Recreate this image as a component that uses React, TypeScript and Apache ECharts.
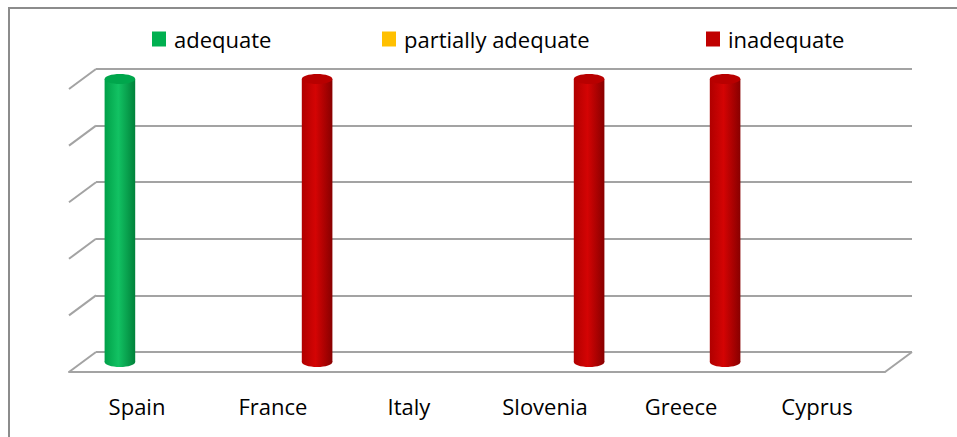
import React, { useEffect, useRef } from "react";
import * as echarts from "echarts";

const categories = ["Spain", "France", "Italy", "Slovenia", "Greece", "Cyprus"];
const seriesNames = ["adequate", "partially adequate", "inadequate"];
const adequate = [1, 0, 0, 0, 0, 0];
const partiallyAdequate = [0, 0, 0, 0, 0, 0];
const inadequate = [0, 1, 0, 1, 1, 0];
const valueTicks = [0, 0.2, 0.4, 0.6, 0.8, 1];

const W = 957;
const H = 437;
const BACK = { left: 96, right: 912, top: 69, bottom: 352 };
const DX = 27;
const DY = 20;
const GRID_COLOR = "#a3a3a3";
const FONT = "'Open Sans', sans-serif";
const BAR_FRAC = 0.225;
const LEGEND_LEFTS = [152, 382, 706];

const palettes = [
  { base: "#00b050", edgeL: "#00a048", mid: "#12c263", edgeR: "#00823a", cap: "#00a64c" },
  { base: "#ffc000", edgeL: "#e8ae00", mid: "#ffcc33", edgeR: "#cc9a00", cap: "#f2b600" },
  { base: "#c00000", edgeL: "#b00000", mid: "#d40404", edgeR: "#880000", cap: "#b80000" },
];

function gridFor(shift: number) {
  return {
    left: BACK.left - DX * shift,
    right: W - (BACK.right - DX * shift),
    top: BACK.top + DY * shift,
    bottom: H - (BACK.bottom + DY * shift),
    containLabel: false,
  };
}

export default function App() {
  const ref = useRef<HTMLDivElement>(null);
  useEffect(() => {
    if (!ref.current) return;
    const chart = echarts.init(ref.current, null, { renderer: "svg" });
    const seriesData = [adequate, partiallyAdequate, inadequate];

    const slants: any[] = valueTicks.map((t) => {
      const y = BACK.bottom - t * (BACK.bottom - BACK.top);
      return {
        type: "line",
        shape: { x1: BACK.left - DX, y1: y + DY, x2: BACK.left, y2: y },
        style: { stroke: GRID_COLOR, lineWidth: 2 },
        silent: true,
      };
    });
    slants.push({
      type: "line",
      shape: { x1: BACK.right - DX, y1: BACK.bottom + DY, x2: BACK.right, y2: BACK.bottom },
      style: { stroke: GRID_COLOR, lineWidth: 2 },
      silent: true,
    });
    slants.push({
      type: "rect",
      shape: { x: 9, y: 8, width: 1000, height: 500 },
      style: { fill: "none", stroke: "#8c8c8c", lineWidth: 2 },
      silent: true,
      z: -10,
    });

    const option: any = {
      animation: false,
      backgroundColor: "#ffffff",
      legend: seriesNames.map((name, i) => ({
        left: LEGEND_LEFTS[i],
        top: 28,
        padding: 0,
        itemWidth: 14,
        itemHeight: 15,
        icon: "rect",
        textStyle: { fontSize: 22, fontFamily: FONT, color: "#000", padding: [0, 0, 0, 3] },
        data: [name],
      })),
      grid: [gridFor(0), gridFor(0.5), gridFor(1)],
      xAxis: [
        { type: "category", gridIndex: 0, data: categories, show: false },
        { type: "category", gridIndex: 1, data: categories, show: false },
        {
          type: "category",
          gridIndex: 2,
          data: categories,
          axisLine: { lineStyle: { color: GRID_COLOR, width: 2 } },
          axisTick: { length: 6, lineStyle: { color: GRID_COLOR, width: 1.5 } },
          axisLabel: { fontSize: 22, fontFamily: FONT, color: "#000", margin: 23 },
        },
      ],
      yAxis: [
        {
          type: "value",
          gridIndex: 0,
          min: 0,
          max: 1,
          interval: 0.2,
          axisLine: { show: false },
          axisTick: { show: false },
          axisLabel: { show: false },
          splitLine: { lineStyle: { color: GRID_COLOR, width: 2 } },
        },
        { type: "value", gridIndex: 1, min: 0, max: 1, interval: 0.2, show: false, splitLine: { show: false } },
        { type: "value", gridIndex: 2, min: 0, max: 1, interval: 0.2, show: false, splitLine: { show: false } },
      ],
      graphic: slants,
      series: seriesNames.map((name, si) => {
        const p = palettes[si];
        return {
          name,
          type: "custom",
          xAxisIndex: 1,
          yAxisIndex: 1,
          itemStyle: { color: p.base },
          encode: { x: 0, y: 1 },
          data: seriesData[si].map((v, i) => [i, v]),
          renderItem: (params: any, api: any) => {
            const v = api.value(1);
            if (!v) return null;
            const cat = api.value(0);
            const top = api.coord([cat, v]);
            const base = api.coord([cat, 0]);
            const band = api.size([1, 0])[0];
            const w = band * BAR_FRAC;
            const cx = top[0] + (si - 1) * w;
            const rx = w / 2;
            const ry = 5;
            const grad = new echarts.graphic.LinearGradient(0, 0, 1, 0, [
              { offset: 0, color: p.edgeL },
              { offset: 0.45, color: p.mid },
              { offset: 1, color: p.edgeR },
            ]);
            return {
              type: "group",
              children: [
                {
                  type: "ellipse",
                  shape: { cx, cy: base[1], rx, ry },
                  style: { fill: grad },
                },
                {
                  type: "rect",
                  shape: { x: cx - rx, y: top[1], width: w, height: base[1] - top[1] },
                  style: { fill: grad },
                },
                {
                  type: "ellipse",
                  shape: { cx, cy: top[1], rx, ry },
                  style: { fill: p.cap },
                },
              ],
            };
          },
        };
      }),
    };
    chart.setOption(option);
    return () => chart.dispose();
  }, []);
  return (
    <div
      ref={ref}
      style={{ position: "fixed", left: 0, top: 0, width: W, height: H, background: "#fff" }}
    />
  );
}
